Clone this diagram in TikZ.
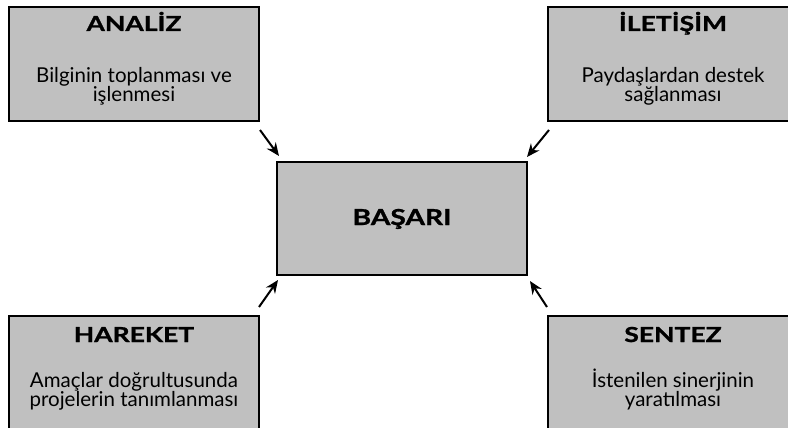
\documentclass[tikz,border=0pt]{standalone}
\usepackage{fontspec}
\setmainfont{Lato}
\newfontfamily\ttlfont{Lato}[FakeStretch=1.28, BoldFeatures={FakeBold=1.2}]
\usetikzlibrary{arrows.meta}
\definecolor{boxgray}{HTML}{C0C0C0}
\begin{document}
\begin{tikzpicture}[x=1pt,y=-1pt,
  box/.style={draw=black, line width=2pt, fill=boxgray, minimum width=250pt, minimum height=114pt, inner sep=0pt, outer sep=0pt},
  ttl/.style={anchor=base, inner sep=0pt, font=\ttlfont\bfseries\fontsize{20.7}{20.7}\selectfont},
  bdy/.style={anchor=base, inner sep=0pt, font=\fontsize{20.5}{20}\selectfont},
  arr/.style={line width=2pt, -{Stealth[length=13pt,width=11pt]}}]
\useasboundingbox (0,0) rectangle (788,428);
\clip (0,0) rectangle (788,428);
% boxes
\node[box] (tl) at (134,64) {};
\node[box] (tr) at (673,64) {};
\node[box] (bl) at (134,373) {};
\node[box] (br) at (673,373) {};
\node[box, minimum height=113pt] (c) at (402,218.5) {};
% texts
\node[ttl] (tlt) at (134,31) {ANALİZ};
\node[bdy] (tlb1) at (134,83) {Bilginin toplanması ve};
\node[bdy] (tlb2) at (134,102) {işlenmesi};
\node[ttl] (trt) at (673,31) {İLETİŞİM};
\node[bdy] (trb1) at (673,83) {Paydaşlardan destek};
\node[bdy] (trb2) at (673,102) {sağlanması};
\node[ttl] (blt) at (134,342) {HAREKET};
\node[bdy] (blb1) at (134,387) {Amaçlar doğrultusunda};
\node[bdy] (blb2) at (134,406) {projelerin tanımlanması};
\node[ttl] (brt) at (673,342) {SENTEZ};
\node[bdy] (brb1) at (673,387) {İstenilen sinerjinin};
\node[bdy] (brb2) at (673,406) {yaratılması};
\node[anchor=base, inner sep=0pt, font=\ttlfont\bfseries\fontsize{22}{22}\selectfont] (ct) at (402,225) {BAŞARI};
% arrows
\coordinate (a1s) at (260,130); \coordinate (a1e) at (279,156);
\coordinate (a2s) at (549,130); \coordinate (a2e) at (527,157);
\coordinate (a3s) at (259,307); \coordinate (a3e) at (278,280);
\coordinate (a4s) at (547,307); \coordinate (a4e) at (530,281);
\draw[arr] (a1s) -- (a1e);
\draw[arr] (a2s) -- (a2e);
\draw[arr] (a3s) -- (a3e);
\draw[arr] (a4s) -- (a4e);
\end{tikzpicture}
\end{document}
